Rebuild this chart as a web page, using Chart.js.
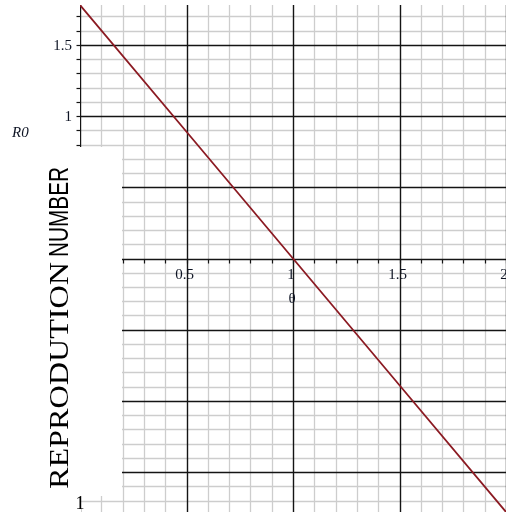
<!DOCTYPE html>
<html>
<head>
<meta charset="utf-8">
<script src="https://cdn.jsdelivr.net/npm/chart.js@4/dist/chart.umd.min.js"></script>
<style>
  html, body { margin: 0; padding: 0; background: #fff; }
  canvas { display: block; }
</style>
</head>
<body>
<canvas id="c" width="506" height="512"></canvas>
<script>
// Basic reproduction number R0 against theta
const theta = [0, 0.5, 1, 1.5, 2];
const r0 = [1.78, 0.89, 0, -0.89, -1.78];

// Axis tick labels
const thetaTickValues = [0.5, 1, 1.5, 2];
const thetaTickLabels = ['0.5', '1', '1.5', '2'];
const r0TickValues = [1.5, 1];
const r0TickLabels = ['1.5', '1'];

const X_MIN = 0, X_MAX = 2;
const Y_MIN = -1.78, Y_MAX = 1.78;

const SERIF = '"Liberation Serif", "DejaVu Serif", serif';
const SANS = '"Liberation Sans", Arial, sans-serif';
const LABEL_COLOR = '#0e1424';

function snap(v) { return Math.round(v) + 0.5; }

// Draws text along the current x direction, squeezed/stretched to a target length
function fillFitted(ctx, text, font, x, y, targetWidth) {
  ctx.save();
  ctx.font = font;
  const w = ctx.measureText(text).width;
  ctx.translate(x, y);
  ctx.scale(targetWidth / w, 1);
  ctx.fillText(text, 0, 0);
  ctx.restore();
}

const gridPlugin = {
  id: 'graphPaper',
  beforeDraw(chart) {
    const ctx = chart.ctx;
    ctx.save();
    ctx.fillStyle = '#ffffff';
    ctx.fillRect(0, 0, chart.width, chart.height);
    ctx.restore();
  },
  beforeDatasetsDraw(chart) {
    const ctx = chart.ctx;
    const xs = chart.scales.x, ys = chart.scales.y;
    const a = chart.chartArea;
    ctx.save();
    ctx.beginPath();
    ctx.rect(a.left, a.top, a.right - a.left + 2, a.bottom - a.top);
    ctx.clip();

    // minor grid every 0.1
    ctx.strokeStyle = '#cdcdcd';
    ctx.lineWidth = 1.3;
    for (let i = 0; i <= 20; i++) {
      if (i % 5 === 0) continue;
      const px = snap(xs.getPixelForValue(i / 10));
      ctx.beginPath(); ctx.moveTo(px, a.top); ctx.lineTo(px, a.bottom); ctx.stroke();
    }
    for (let j = -18; j <= 18; j++) {
      if (j % 5 === 0) continue;
      const py = snap(ys.getPixelForValue(j / 10));
      ctx.beginPath(); ctx.moveTo(a.left, py); ctx.lineTo(a.right, py); ctx.stroke();
    }

    // major lines every 0.5
    ctx.strokeStyle = '#141414';
    ctx.lineWidth = 1.4;
    for (let i = 0; i <= 4; i++) {
      const px = snap(xs.getPixelForValue(i * 0.5));
      ctx.beginPath(); ctx.moveTo(px, a.top); ctx.lineTo(px, a.bottom); ctx.stroke();
    }
    for (let j = -3; j <= 3; j++) {
      const py = snap(ys.getPixelForValue(j * 0.5));
      ctx.beginPath(); ctx.moveTo(a.left, py); ctx.lineTo(a.right, py); ctx.stroke();
    }

    // tick marks on the theta axis
    const y0 = snap(ys.getPixelForValue(0));
    ctx.lineWidth = 1.2;
    for (let i = 1; i <= 20; i++) {
      const px = snap(xs.getPixelForValue(i / 10));
      ctx.beginPath(); ctx.moveTo(px, y0); ctx.lineTo(px, y0 + 4); ctx.stroke();
    }
    ctx.restore();

    // tick marks on the R0 axis (upper part only)
    ctx.save();
    ctx.strokeStyle = '#141414';
    ctx.lineWidth = 1.2;
    const x0 = snap(xs.getPixelForValue(0));
    for (let j = -18; j <= 18; j++) {
      const py = snap(ys.getPixelForValue(j / 10));
      if (py < a.top || py > 147) continue;
      ctx.beginPath(); ctx.moveTo(x0 - 4, py); ctx.lineTo(x0, py); ctx.stroke();
    }

    // caption panel on the left
    ctx.fillStyle = '#ffffff';
    ctx.fillRect(0, 147, 122, 349);
    ctx.fillRect(0, 496, 81, 16);
    ctx.restore();
  },
  afterDraw(chart) {
    const ctx = chart.ctx;
    const xs = chart.scales.x, ys = chart.scales.y;
    ctx.save();
    ctx.fillStyle = LABEL_COLOR;

    // R0 axis tick labels
    ctx.font = '15px ' + SERIF;
    ctx.textAlign = 'right';
    ctx.textBaseline = 'middle';
    r0TickValues.forEach((v, i) => {
      ctx.fillText(r0TickLabels[i], 72, ys.getPixelForValue(v) + 1);
    });

    // theta axis tick labels
    ctx.textAlign = 'center';
    thetaTickValues.forEach((v, i) => {
      ctx.fillText(thetaTickLabels[i], xs.getPixelForValue(v) - 2, ys.getPixelForValue(0) + 17);
    });

    // axis names
    ctx.font = '15px ' + SERIF;
    ctx.fillText('\u03B8', xs.getPixelForValue(1) - 1, ys.getPixelForValue(0) + 41);
    ctx.font = 'italic 15px ' + SERIF;
    ctx.textAlign = 'left';
    ctx.fillText('R0', 12, 133);

    // lone tick label at the bottom edge
    ctx.font = '18px ' + SERIF;
    ctx.textAlign = 'center';
    ctx.fillStyle = '#000';
    ctx.fillText('1', 80, 504);

    // vertical caption, reading upwards
    ctx.fillStyle = '#000';
    ctx.translate(68, 489);
    ctx.rotate(-Math.PI / 2);
    ctx.textAlign = 'left';
    ctx.textBaseline = 'alphabetic';
    fillFitted(ctx, 'REPRODUTION', '28px ' + SERIF, 0, 0, 227);
    fillFitted(ctx, 'NUMBER', '27px ' + SANS, 232, 0, 90);
    ctx.restore();
  }
};

new Chart(document.getElementById('c'), {
  type: 'scatter',
  data: {
    datasets: [{
      data: theta.map((t, i) => ({ x: t, y: r0[i] })),
      showLine: true,
      borderColor: '#8b1a22',
      borderWidth: 1.8,
      pointRadius: 0,
      tension: 0,
      fill: false
    }]
  },
  options: {
    responsive: false,
    animation: false,
    events: [],
    layout: { padding: { left: 80, top: 5, right: 0, bottom: 0 } },
    plugins: { legend: { display: false }, tooltip: { enabled: false } },
    scales: {
      x: { type: 'linear', min: X_MIN, max: X_MAX, display: false },
      y: { type: 'linear', min: Y_MIN, max: Y_MAX, display: false }
    }
  },
  plugins: [gridPlugin]
});
</script>
</body>
</html>
